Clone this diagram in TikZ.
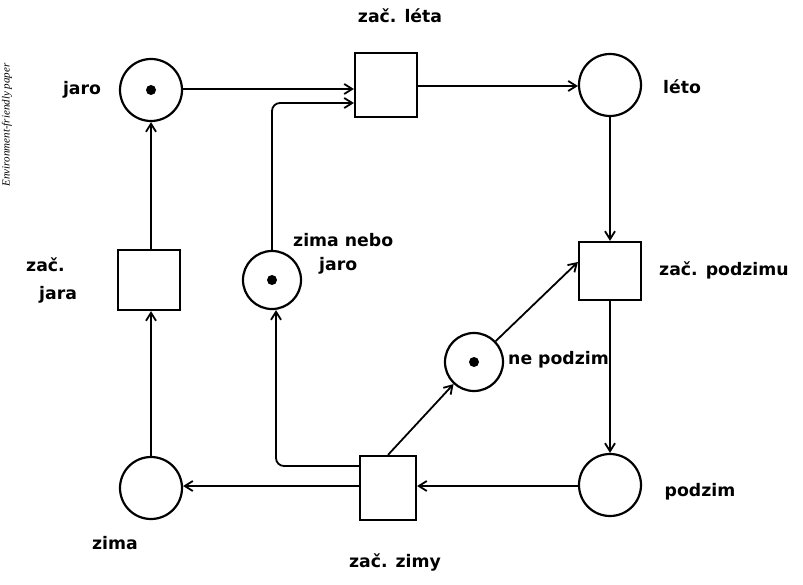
\documentclass[tikz,border=0pt]{standalone}
\usepackage{fontspec}
\setmainfont{DejaVu Sans}
\newfontfamily\envfont{Liberation Serif}
\usetikzlibrary{arrows.meta}
\begin{document}
\begin{tikzpicture}[x=1pt,y=-1pt,
  place/.style={circle,draw,line width=2.2pt,minimum size=62pt,inner sep=0pt},
  trans/.style={rectangle,draw,line width=2.2pt,minimum width=62pt,minimum height=62pt,inner sep=0pt},
  token/.style={circle,fill,minimum size=10pt,inner sep=0pt},
  arc/.style={line width=1.8pt,-{Straight Barb[length=8pt,width=10pt,line width=1.8pt]}},
  lbl/.style={font=\bfseries\LARGE,inner sep=1pt}]
\useasboundingbox (0,0) rectangle (803,585);
% places
\node[place] (jaro) at (151,90) {};
\node[token] (tj) at (jaro) {};
\node[place] (leto) at (610,85) {};
\node[place] (podzim) at (610,485) {};
\node[place] (zima) at (151,488) {};
\node[place,minimum size=58pt] (znj) at (272,280) {};
\node[token] (tz) at (znj) {};
\node[place,minimum size=58pt] (nep) at (474,362) {};
\node[token] (tn) at (nep) {};
% transitions
\node[trans,minimum height=64pt] (zl) at (386,85) {};
\node[trans,minimum height=58pt] (zp) at (610,271) {};
\node[trans,minimum width=56pt,minimum height=64pt] (zz) at (388,488) {};
\node[trans,minimum height=60pt] (zj) at (149,280) {};
% arcs
\draw[arc] (jaro.east |- 0,89) -- (zl.west |- 0,89);
\draw[arc] (zl.east |- 0,86) -- (leto.west |- 0,86);
\draw[arc] (leto) -- (zp);
\draw[arc] (zp) -- (podzim);
\draw[arc] (podzim.west |- 0,486) -- (zz.east |- 0,486);
\draw[arc] (zz.west |- 0,486) -- (zima.east |- 0,486);
\draw[arc] (zima.north) -- (zj.south -| zima.north);
\draw[arc] (zj.north -| jaro.south) -- (jaro.south);
\coordinate (c1) at (272,103);
\draw[arc,rounded corners=8pt] (znj.north) -- (c1) -- (zl.west |- 0,103);
\coordinate (c2) at (276,466);
\draw[arc,rounded corners=8pt] (zz.west |- 0,466) -- (c2) -- (znj.south -| 276,0);
\draw[arc] (zz.north) -- (nep);
\draw[arc] (nep) -- (zp.west |- 0,262);
% labels
\node[lbl] (ljaro) at (82,90) {jaro};
\node[lbl] (lzl) at (400,16) {zač. léta};
\node[lbl] (lleto) at (682,87) {léto};
\node[lbl,anchor=west] (lznj1) at (292,240) {zima nebo};
\node[lbl,anchor=west] (lznj2) at (318,266) {jaro};
\node[lbl,anchor=west] (lzp) at (658,270) {zač. podzimu};
\node[lbl,anchor=west] (lnep) at (507,360) {ne podzim};
\node[lbl] (lpod) at (700,492) {podzim};
\node[lbl] (lzima) at (115,543) {zima};
\node[lbl] (lzz) at (395,562) {zač. zimy};
\node[lbl,anchor=west] (lzj1) at (25,265) {zač.};
\node[lbl,anchor=west] (lzj2) at (38,295) {jara};
\node[font=\envfont\itshape\fontsize{11}{12}\selectfont,rotate=90,inner sep=0pt] (env) at (7,125) {Environment-friendly paper};
\end{tikzpicture}
\end{document}
